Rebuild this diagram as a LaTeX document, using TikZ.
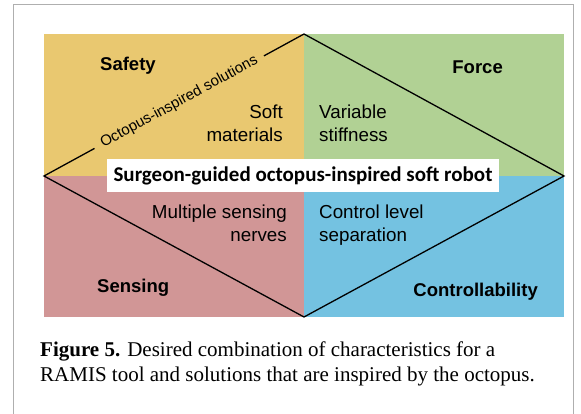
\documentclass[tikz,border=0pt]{standalone}
\usepackage{fontspec}
\setmainfont{Liberation Serif}
\setsansfont{Liberation Sans}
\newfontfamily\bannerfont{Carlito}
\usetikzlibrary{positioning}
\definecolor{safetyc}{RGB}{233,200,112}
\definecolor{forcec}{RGB}{177,209,148}
\definecolor{sensec}{RGB}{209,150,150}
\definecolor{controlc}{RGB}{116,194,225}
\definecolor{framec}{RGB}{175,175,175}
\tikzset{
  edge/.style  ={line width=1.3pt, black, line join=miter},
  trait/.style ={font=\sffamily\bfseries\fontsize{18.5}{20}\selectfont, inner sep=0pt},
  sol/.style   ={font=\sffamily\fontsize{18.8}{23}\selectfont, inner sep=0pt},
  motto/.style ={font=\sffamily\fontsize{15}{16}\selectfont, sloped, fill=safetyc,
                 inner xsep=8pt, inner ysep=1pt},
  banner/.style={fill=white, inner xsep=7pt, minimum height=33pt,
                 font=\bannerfont\bfseries\fontsize{21}{24}\selectfont},
}

\begin{document}
\begin{tikzpicture}[x=1pt, y=-1pt]
  \useasboundingbox (0,0) rectangle (581,414);
  % page frame, open at the bottom
  \draw[framec, line width=1pt] (13,414) -- (13,5) -- (573,5) -- (573,414);

  % four quadrants
  \fill[safetyc]  (44,34)   rectangle (304,176);
  \fill[forcec]   (304,34)  rectangle (564,176);
  \fill[sensec]   (44,176)  rectangle (304,317);
  \fill[controlc] (304,176) rectangle (564,317);

  % diamond
  \coordinate (n) at (304,34);
  \coordinate (e) at (564,176);
  \coordinate (s) at (304,317);
  \coordinate (w) at (44,176);
  \draw[edge] (w) -- node[motto, pos=0.52] (inspired) {Octopus-inspired solutions}
              (n) -- (e) -- (s) -- cycle;

  % characteristics
  \node[trait, anchor=base west] (safety)  at (100,71)  {Safety};
  \node[trait, anchor=base east] (force)   at (503,74)  {Force};
  \node[trait, anchor=base west] (sensing) at (97,292)  {Sensing};
  \node[trait, anchor=base east] (ctrl)    at (538,296) {Controllability};

  % solutions
  \node[sol, align=right, anchor=north east] (soft)   at (283,105) {Soft\\materials};
  \node[sol, align=left,  anchor=north west] (stiff)  at (319,105) {Variable\\stiffness};
  \node[sol, align=right, anchor=north east] (nerves) at (287,205) {Multiple sensing\\nerves};
  \node[sol, align=left,  anchor=north west] (levels) at (319,205) {Control level\\separation};

  % centre banner
  \node[banner] (robot) at (303,176) {Surgeon-guided octopus-inspired soft robot};

  % caption
  \node[anchor=north west, align=left, inner sep=0pt, font=\fontsize{21}{25}\selectfont]
    (caption) at (40,342) {\textbf{Figure 5.} Desired combination of characteristics for a\\
    RAMIS tool and solutions that are inspired by the octopus.};
\end{tikzpicture}
\end{document}
